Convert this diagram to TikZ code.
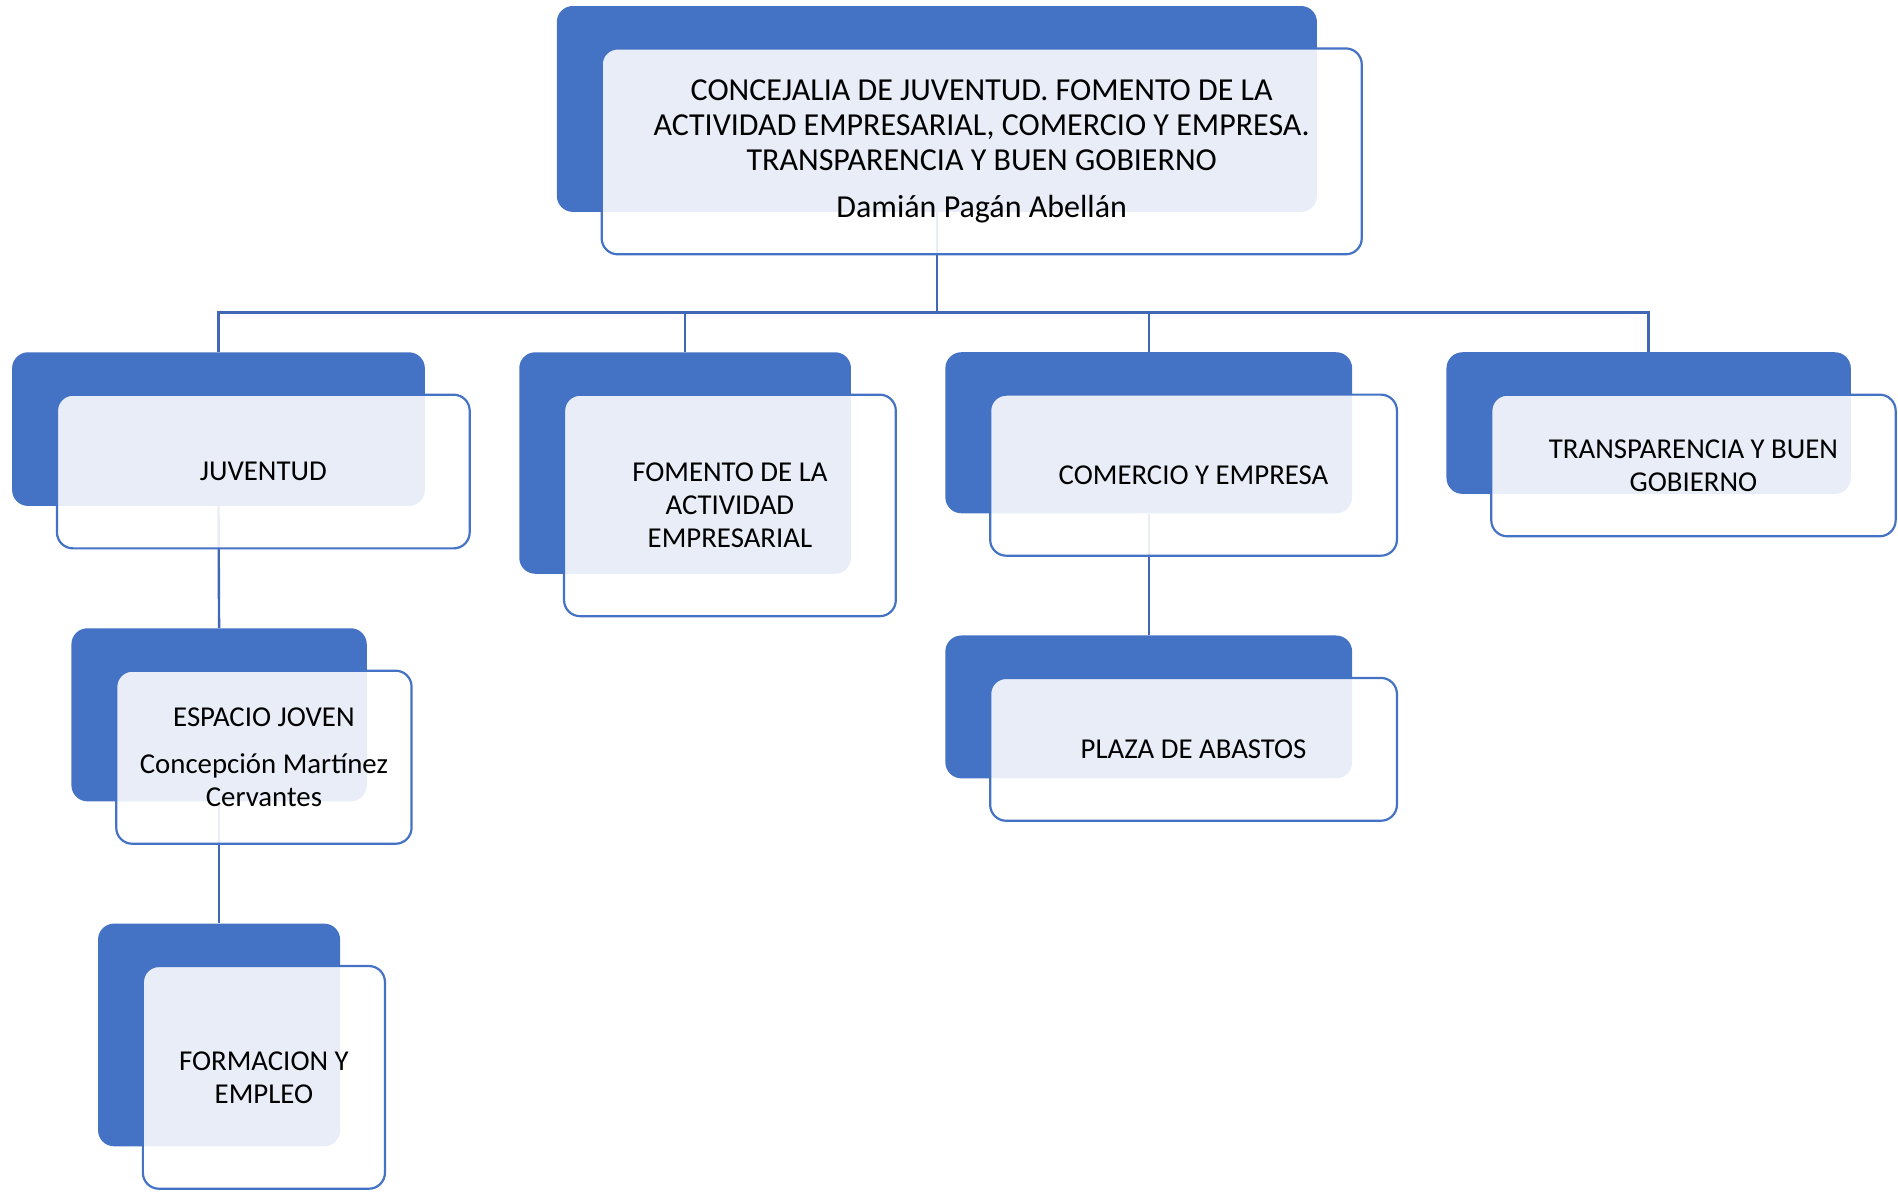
\documentclass[tikz,border=0pt]{standalone}
\usepackage{fontspec}
\setmainfont{Carlito}
\usepackage{tikz}
\usetikzlibrary{positioning,calc}

\definecolor{accent}{RGB}{68,114,196}
\definecolor{linkc}{RGB}{64,104,180}

\tikzset{
  back/.style={rectangle, rounded corners=8pt, fill=accent, inner sep=0pt},
  front/.style={rectangle, rounded corners=8pt, draw=accent, line width=1.1pt,
    fill=white, fill opacity=0.88, text opacity=1, draw opacity=1,
    align=center, inner sep=0pt, xshift=22.4pt, yshift=-21.2pt,
    font=\fontsize{14.4}{16.4}\selectfont},
  sz/.style 2 args={minimum width=#1, minimum height=#2},
  link/.style={draw=linkc, line width=1.2pt}
}

\begin{document}
\begin{tikzpicture}[x=0.605pt, y=-0.605pt]
        \useasboundingbox (0,0) rectangle (1568,986.4);

        % Back boxes
        \node (conc) [back, sz={379.9pt}{102.9pt}] at (774,90) {};
        \node (juv) [back, sz={206.3pt}{76.8pt}] at (180.5,354.5) {};
        \node (fom) [back, sz={165.8pt}{110.7pt}] at (566,382.5) {};
        \node (com) [back, sz={203.3pt}{80.5pt}] at (949,357.5) {};
        \node (tra) [back, sz={202.1pt}{70.8pt}] at (1362,349.5) {};
        \node (esp) [back, sz={147.6pt}{86.5pt}] at (181,590.5) {};
        \node (form) [back, sz={121pt}{111.3pt}] at (181,855) {};
        \node (pla) [back, sz={203.3pt}{71.4pt}] at (949,584) {};

        % Connections
        \coordinate (bus) at (774,258);
        \draw[link] (conc.south) -- (bus);
        \foreach \n in {juv,fom,com,tra}
          \draw[link] (bus) -| (\n.north);
        \draw[link] (juv.south) -- (esp.north);
        \draw[link] (esp.south) -- (form.north);
        \draw[link] (com.south) -- (pla.north);

        % Front boxes
        \node (conc-f) [front, sz={379.9pt}{102.9pt}, font=\fontsize{16}{17.6}\selectfont] at (conc) {CONCEJALIA DE JUVENTUD. FOMENTO DE LA\\ ACTIVIDAD EMPRESARIAL, COMERCIO Y EMPRESA.\\ TRANSPARENCIA Y BUEN GOBIERNO\\[6pt] Damián Pagán Abellán};
        \node (juv-f) [front, sz={206.3pt}{76.8pt}] at (juv) {JUVENTUD};
        \node (fom-f) [front, sz={165.8pt}{110.7pt}] at (fom) {FOMENTO DE LA\\ ACTIVIDAD\\ EMPRESARIAL};
        \node (com-f) [front, sz={203.3pt}{80.5pt}] at (com) {COMERCIO Y EMPRESA};
        \node (tra-f) [front, sz={202.1pt}{70.8pt}] at (tra) {TRANSPARENCIA Y BUEN\\ GOBIERNO};
        \node (esp-f) [front, sz={147.6pt}{86.5pt}] at (esp) {ESPACIO JOVEN\\[7pt] Concepción Martínez\\ Cervantes};
        \node (form-f) [front, sz={121pt}{111.3pt}] at (form) {FORMACION Y\\ EMPLEO};
        \node (pla-f) [front, sz={203.3pt}{71.4pt}] at (pla) {PLAZA DE ABASTOS};
\end{tikzpicture}
\end{document}
